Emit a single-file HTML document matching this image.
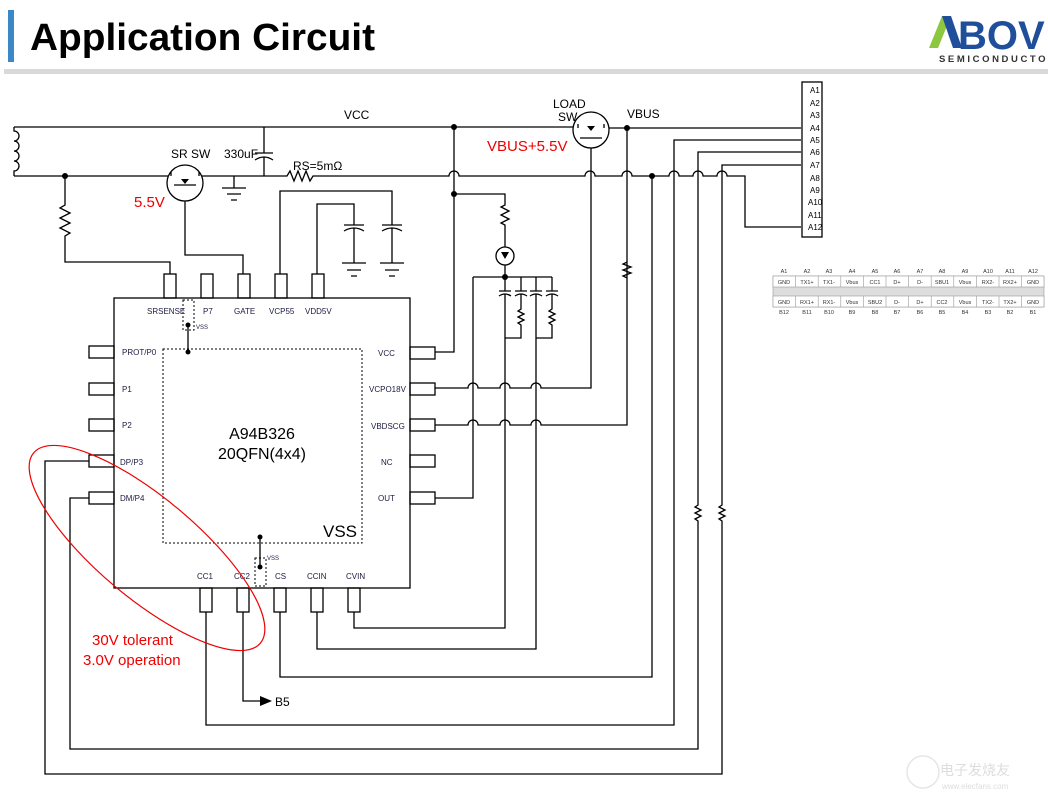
<!DOCTYPE html>
<html><head><meta charset="utf-8"><style>
html,body{margin:0;padding:0;background:#fff;}
svg{display:block;font-family:"Liberation Sans",sans-serif;}
</style></head><body>
<svg width="1048" height="801" viewBox="0 0 1048 801" xmlns="http://www.w3.org/2000/svg">
<rect width="1048" height="801" fill="#fff"/>
<!-- header -->
<rect x="8" y="10" width="6" height="52" fill="#3a88c8"/>
<text x="30" y="50" font-size="38" font-weight="bold" fill="#000" textLength="345" lengthAdjust="spacingAndGlyphs">Application Circuit</text>
<rect x="4" y="69" width="1044" height="5" fill="#d9d9d9"/>
<polygon points="929,48 938,48 951,16 942,16" fill="#8dc63f"/>
<polygon points="942,16 951,16 962,48 953,48" fill="#1f4e9a"/>
<text x="958" y="49" font-size="40" font-weight="bold" fill="#1f4e9a">BOV</text>
<text x="939" y="62" font-size="9.5" font-weight="bold" fill="#333" letter-spacing="2.6">SEMICONDUCTOR</text>

<g fill="none" stroke="#000" stroke-width="1.3">
<path d="M14,127 H573 M609,128 H801"/>
<path d="M14,127 V131 a5,5 0 0 1 0,10 a5,5 0 0 1 0,10 a5,5 0 0 1 0,10 a5,5 0 0 1 0,10 V176"/>
<path d="M14,176 H168 M202,176 H283 M283,176 l4,0 l3,-5 l4,10 l4,-10 l4,10 l4,-10 l4,10 l3,-5 H330"/>
<path d="M330,176 H449 a5,5 0 0 1 10,0 H585 a5,5 0 0 1 10,0 H622 a5,5 0 0 1 10,0 H669 a5,5 0 0 1 10,0 H693 a5,5 0 0 1 10,0 H717 a5,5 0 0 1 10,0 H745 V227 H801"/>
<circle cx="185" cy="183" r="18"/>
<path d="M171,176 V172 M199,176 V172 M174,185 H196 M185,201 V255 H243 V274"/>
<path d="M264,127 V153 M255,153 H273 M255,160 Q264,154 273,160 M264,157 V176"/>
<path d="M234,176 V188 M222,188 H246 M227,194 H241 M231,200 H237"/>
<path d="M65,176 V205 l-5,3 l10,5 l-10,5 l10,5 l-10,5 l10,5 l-5,3 V262 H170 V274"/>
<path d="M280,274 V191 H392 V225 M382,225 H402 M382,231 Q392,225 402,231 M392,228 V263 M380,263 H404 M385,270 H399 M389,276 H395"/>
<path d="M317,274 V204 H354 V225 M344,225 H364 M344,231 Q354,225 364,231 M354,228 V263 M342,263 H366 M347,270 H361 M351,276 H357"/>
<path d="M454,127 V352 H435"/>
<path d="M454,194 H505 V205 l-4,2 l8,4 l-8,4 l8,4 l-8,4 l4,2 V247"/>
<circle cx="505" cy="256" r="9"/>
<path d="M505,265 V277 M473,277 H552 M473,277 V498 H435"/>
<path d="M505,277 V291 M499,291 H511 M499,296 Q505,292 511,296 M505,294 V628 H354 V612"/>
<path d="M521,277 V291 M515,291 H527 M515,296 Q521,292 527,296 M521,294 V309 l-3,2 l6,3 l-6,3 l6,3 l-6,3 l3,2 V338 H505"/>
<path d="M536,277 V291 M530,291 H542 M530,296 Q536,292 542,296 M536,294 V649 H317 V612"/>
<path d="M552,277 V291 M546,291 H558 M546,296 Q552,292 558,296 M552,294 V309 l-3,2 l6,3 l-6,3 l6,3 l-6,3 l3,2 V338 H536"/>
<path d="M435,388 H468 a5,5 0 0 1 10,0 H500 a5,5 0 0 1 10,0 H531 a5,5 0 0 1 10,0 H591 V148"/>
<path d="M435,425 H468 a5,5 0 0 1 10,0 H500 a5,5 0 0 1 10,0 H531 a5,5 0 0 1 10,0 H627 V262 l-4,2 l8,3 l-8,3 l8,3 l-8,3 l4,2 V128"/>
<circle cx="591" cy="130" r="18"/>
<path d="M578,128 V124 M604,128 V124 M580,138 H602"/>
<path d="M652,176 V677 H280 V612"/>
<path d="M801,140 H674 V725 H206 V612"/>
<path d="M801,152 H698 V505 l-3,2 l6,3 l-6,3 l6,3 l-6,3 l3,2 V749 H70 V498 H89"/>
<path d="M801,165 H722 V505 l-3,2 l6,3 l-6,3 l6,3 l-6,3 l3,2 V774 H45 V461 H89"/>
<path d="M243,612 V701 H262"/>
<rect x="802" y="82" width="20" height="155"/>
<rect x="114" y="298" width="296" height="290"/>
<rect x="164" y="274" width="12" height="24"/><rect x="201" y="274" width="12" height="24"/><rect x="238" y="274" width="12" height="24"/><rect x="275" y="274" width="12" height="24"/><rect x="312" y="274" width="12" height="24"/>
<rect x="200" y="588" width="12" height="24"/><rect x="237" y="588" width="12" height="24"/><rect x="274" y="588" width="12" height="24"/><rect x="311" y="588" width="12" height="24"/><rect x="348" y="588" width="12" height="24"/>
<rect x="89" y="346" width="25" height="12"/><rect x="89" y="383" width="25" height="12"/><rect x="89" y="419" width="25" height="12"/><rect x="89" y="455" width="25" height="12"/><rect x="89" y="492" width="25" height="12"/>
<rect x="410" y="347" width="25" height="12"/><rect x="410" y="383" width="25" height="12"/><rect x="410" y="419" width="25" height="12"/><rect x="410" y="455" width="25" height="12"/><rect x="410" y="492" width="25" height="12"/>
<path d="M188,325 V352 M260,537 V567"/>
</g>
<g fill="none" stroke="#000" stroke-width="1" stroke-dasharray="2,2">
<rect x="163" y="349" width="199" height="194"/>
<rect x="183" y="300" width="11" height="30"/>
<rect x="255" y="558" width="11" height="28"/>
</g>
<polygon points="260,696 272,701 260,706" fill="#000"/>
<g fill="#000">
<circle cx="65" cy="176" r="3"/><circle cx="454" cy="127" r="3"/><circle cx="454" cy="194" r="3"/><circle cx="627" cy="128" r="3"/><circle cx="652" cy="176" r="3"/><circle cx="505" cy="277" r="3"/><circle cx="188" cy="325" r="2.5"/><circle cx="188" cy="352" r="2.5"/><circle cx="260" cy="537" r="2.5"/><circle cx="260" cy="567" r="2.5"/>
<polygon points="181,179 189,179 185,184"/><polygon points="587,126 595,126 591,131"/><polygon points="501,252 509,252 505,259"/>
</g>
<g font-size="8" fill="#000">
<text x="810" y="93">A1</text><text x="810" y="106">A2</text><text x="810" y="118">A3</text><text x="810" y="131">A4</text><text x="810" y="143">A5</text><text x="810" y="155">A6</text><text x="810" y="168">A7</text><text x="810" y="181">A8</text><text x="810" y="193">A9</text><text x="808" y="205">A10</text><text x="808" y="218">A11</text><text x="808" y="230">A12</text>
</g>
<g font-size="12" fill="#000">
<text x="344" y="119">VCC</text><text x="553" y="108">LOAD</text><text x="558" y="121">SW</text><text x="627" y="118">VBUS</text>
<text x="171" y="158">SR SW</text><text x="224" y="158">330uF</text><text x="293" y="170">RS=5mΩ</text>
</g>
<g fill="#e00" font-size="15">
<text x="134" y="207">5.5V</text><text x="487" y="151">VBUS+5.5V</text>
<text x="92" y="645">30V tolerant</text><text x="83" y="665">3.0V operation</text>
</g>
<g font-size="8" fill="#1a1a40">
<text x="147" y="314">SRSENSE</text><text x="203" y="314">P7</text><text x="234" y="314">GATE</text><text x="269" y="314">VCP55</text><text x="305" y="314">VDD5V</text>
<text x="196" y="329" font-size="6">VSS</text><text x="267" y="560" font-size="6">VSS</text>
<text x="122" y="355">PROT/P0</text><text x="122" y="392">P1</text><text x="122" y="428">P2</text><text x="120" y="465">DP/P3</text><text x="120" y="501">DM/P4</text>
<text x="378" y="356">VCC</text><text x="369" y="392">VCPO18V</text><text x="371" y="429">VBDSCG</text><text x="381" y="465">NC</text><text x="378" y="501">OUT</text>
<text x="197" y="579">CC1</text><text x="234" y="579">CC2</text><text x="275" y="579">CS</text><text x="307" y="579">CCIN</text><text x="346" y="579">CVIN</text>
</g>
<text x="262" y="439" font-size="16" text-anchor="middle">A94B326</text>
<text x="262" y="459" font-size="16" text-anchor="middle">20QFN(4x4)</text>
<text x="323" y="537" font-size="17">VSS</text>
<text x="275" y="706" font-size="12">B5</text>
<ellipse cx="147" cy="548" rx="148" ry="50" transform="rotate(40 147 548)" fill="none" stroke="#e00" stroke-width="1.2"/>
<g font-size="5.5" fill="#333" text-anchor="middle">
<rect x="773" y="276" width="271" height="31" fill="#ddd" stroke="#999" stroke-width="0.6"/>
<g fill="#fff" stroke="#999" stroke-width="0.6">
<rect x="773" y="276" width="271" height="11"/><rect x="773" y="296" width="271" height="11"/>
</g>
<g stroke="#999" stroke-width="0.6">
<path d="M795.6,276V287M818.2,276V287M840.8,276V287M863.4,276V287M886,276V287M908.6,276V287M931.2,276V287M953.8,276V287M976.4,276V287M999,276V287M1021.6,276V287"/>
<path d="M795.6,296V307M818.2,296V307M840.8,296V307M863.4,296V307M886,296V307M908.6,296V307M931.2,296V307M953.8,296V307M976.4,296V307M999,296V307M1021.6,296V307"/>
</g>
<text x="784" y="273">A1</text><text x="807" y="273">A2</text><text x="829" y="273">A3</text><text x="852" y="273">A4</text><text x="875" y="273">A5</text><text x="897" y="273">A6</text><text x="920" y="273">A7</text><text x="942" y="273">A8</text><text x="965" y="273">A9</text><text x="988" y="273">A10</text><text x="1010" y="273">A11</text><text x="1033" y="273">A12</text>
<text x="784" y="284">GND</text><text x="807" y="284">TX1+</text><text x="829" y="284">TX1-</text><text x="852" y="284">Vbus</text><text x="875" y="284">CC1</text><text x="897" y="284">D+</text><text x="920" y="284">D-</text><text x="942" y="284">SBU1</text><text x="965" y="284">Vbus</text><text x="988" y="284">RX2-</text><text x="1010" y="284">RX2+</text><text x="1033" y="284">GND</text>
<text x="784" y="304">GND</text><text x="807" y="304">RX1+</text><text x="829" y="304">RX1-</text><text x="852" y="304">Vbus</text><text x="875" y="304">SBU2</text><text x="897" y="304">D-</text><text x="920" y="304">D+</text><text x="942" y="304">CC2</text><text x="965" y="304">Vbus</text><text x="988" y="304">TX2-</text><text x="1010" y="304">TX2+</text><text x="1033" y="304">GND</text>
<text x="784" y="314">B12</text><text x="807" y="314">B11</text><text x="829" y="314">B10</text><text x="852" y="314">B9</text><text x="875" y="314">B8</text><text x="897" y="314">B7</text><text x="920" y="314">B6</text><text x="942" y="314">B5</text><text x="965" y="314">B4</text><text x="988" y="314">B3</text><text x="1010" y="314">B2</text><text x="1033" y="314">B1</text>
</g>
<g fill="none" stroke="#e6e6e6" stroke-width="1.5"><circle cx="923" cy="772" r="16"/></g>
<text x="940" y="775" font-size="14" fill="#ddd" style="font-family:'Noto Sans CJK SC',sans-serif">电子发烧友</text>
<text x="942" y="789" font-size="8" fill="#ddd">www.elecfans.com</text>
</svg>
</body></html>
